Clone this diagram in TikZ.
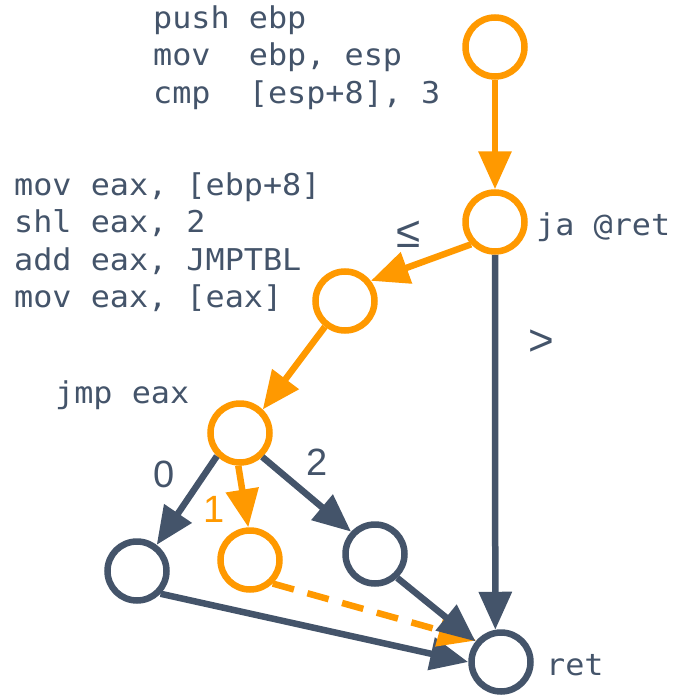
\documentclass[tikz,border=0pt]{standalone}
\usepackage{fontspec}
\usetikzlibrary{arrows.meta}
\newfontfamily\codefont[FakeStretch=1.06]{DejaVu Sans Mono}
\newfontfamily\labelfont{Liberation Sans}
\definecolor{slate}{HTML}{44546A}
\definecolor{amber}{HTML}{FF9900}

\begin{document}
\begin{tikzpicture}[x=1pt,y=-1pt,
  block/.style={circle, draw, line width=6.5pt, minimum size=59pt, inner sep=0pt, fill=white},
  flow/.style={line width=6.5pt, -{Triangle[length=38pt,width=32pt]}},
  code/.style={anchor=base west, inner sep=0pt, text=slate,
               font=\codefont\fontsize{30}{34}\selectfont},
  lbl/.style={inner sep=0pt, text=slate, font=\labelfont\fontsize{38}{42}\selectfont},
  sym/.style={inner sep=0pt, text=slate, font=\labelfont\fontsize{44}{48}\selectfont}]

  \useasboundingbox (0,0) rectangle (687,696);

  % basic blocks of the control-flow graph
  \node[block, draw=amber] (n1) at (495,47)  {};
  \node[block, draw=amber] (n2) at (495,222) {};
  \node[block, draw=amber] (n3) at (345,301) {};
  \node[block, draw=amber] (n4) at (240,433) {};
  \node[block, draw=slate] (n5) at (137,571) {};
  \node[block, draw=amber] (n6) at (250,560) {};
  \node[block, draw=slate] (n7) at (375,554) {};
  \node[block, draw=slate] (n8) at (501,662) {};

  % assembly listing
  \node[code] (c1) at (153,28)   {push ebp};
  \node[code] (c2) at (153,65.5) {mov~~ebp, esp};
  \node[code] (c3) at (153,103)  {cmp~~[esp+8], 3};
  \node[code] (c4) at (14,195)   {mov eax, [ebp+8]};
  \node[code] (c5) at (14,232)   {shl eax, 2};
  \node[code] (c6) at (14,270)   {add eax, JMPTBL};
  \node[code] (c7) at (14,307)   {mov eax, [eax]};
  \node[code] (c8) at (55,403)   {jmp eax};
  \node[code] (c9) at (536,235)  {ja @ret};
  \node[code] (c10) at (546,675) {ret};

  % branch labels
  \node[sym] (le) at (408.5,234.5) {≤};
  \node[sym] (gt) at (541,343)     {>};
  \node[lbl] (l0) at (164,474.5)   {0};
  \node[lbl, text=amber] (l1) at (214,509.5) {1};
  \node[lbl] (l2) at (317.5,462.5) {2};

  % edges
  \draw[flow, amber] (n1.south) -- (n2.north);
  \draw[flow, amber] (n2.223) -- (n3.38);
  \draw[flow, slate] (n2.south) -- (n8.100);
  \draw[flow, amber] (n3.232) -- (n4.46);
  \draw[flow, slate] (n4.225) -- (n5.53);
  \draw[flow, amber] (n4.267) -- (n6.93);
  \draw[flow, slate] (n4.313) -- (n7.137);
  \draw[flow, slate] (n5.316) -- (n8.180);
  \draw[flow, amber, dash pattern=on 22pt off 14pt] (n6.314) -- (n8.139);
  \draw[flow, slate] (n7.313) -- (n8.141);
\end{tikzpicture}
\end{document}
